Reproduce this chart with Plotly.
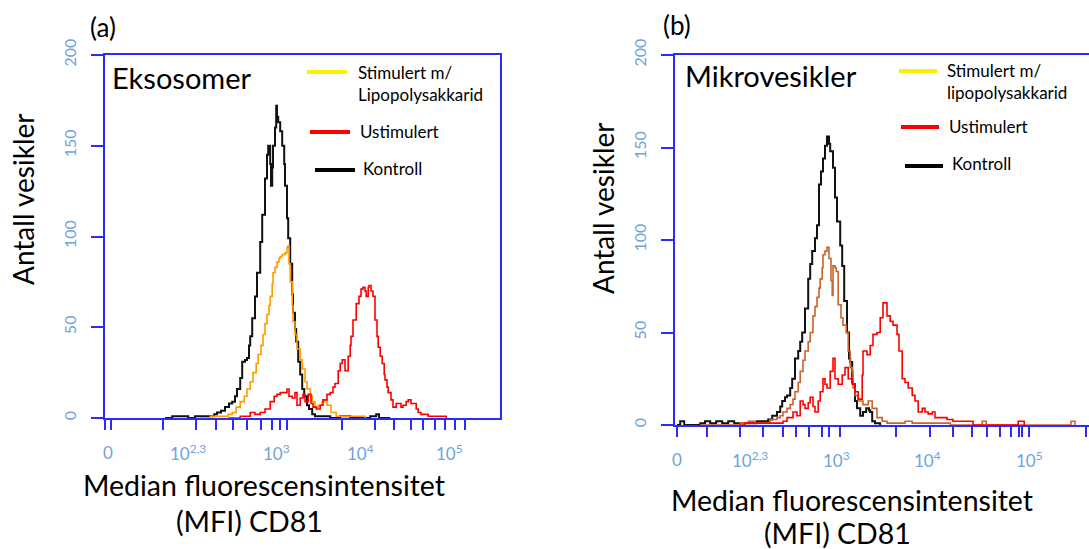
import plotly.graph_objects as go

W, H = 1089, 549
FONT = "Lato"
AXIS_BLUE = "#2B2BFF"
TICK_BLUE = "#6FA3DA"

# ---------------- data (channel units on a biexponential display, counts) ----------------
# Panel (a) Eksosomer
a_ctrl_x = [150, 168, 188, 208, 225, 245, 263, 273, 280, 290, 300, 310, 318, 325, 330, 338, 343, 350, 355, 360,
            363, 368, 375, 380, 388, 393, 400, 405, 408, 413, 415, 418, 420, 425, 428, 430, 433, 438, 443, 448,
            450, 455, 458, 463, 468, 470, 475, 478, 483, 488, 493, 498, 505, 510, 518, 525, 538, 563, 588, 613,
            663, 678, 685, 713]
a_ctrl_y = [0, 1, 1, 0, 1, 1, 1, 2, 3, 4, 6, 8, 9, 12, 16, 22, 31, 32, 33, 40,
            45, 55, 67, 80, 97, 112, 132, 145, 150, 140, 128, 138, 150, 160, 172, 166, 163, 158, 150, 140,
            128, 110, 99, 85, 68, 58, 49, 42, 31, 24, 16, 12, 7, 5, 2, 1, 1, 0, 1, 0,
            1, 2, 0, 0]

a_stim_x = [238, 263, 288, 308, 318, 328, 338, 348, 355, 363, 370, 378, 383, 390, 395, 400, 405, 410, 413, 418,
            420, 425, 430, 435, 438, 443, 450, 455, 458, 460, 463, 468, 470, 475, 480, 488, 493, 500, 505, 513,
            518, 525, 533, 543, 550, 555, 565, 578, 600, 625, 650]
a_stim_y = [0, 1, 1, 2, 3, 6, 9, 12, 16, 20, 25, 30, 35, 40, 46, 52, 57, 62, 67, 74,
            80, 83, 86, 88, 89, 90, 91, 94, 95, 85, 75, 62, 53, 46, 38, 32, 27, 20, 16, 12,
            9, 6, 7, 9, 10, 7, 3, 1, 1, 1, 0]

a_unst_x = [308, 338, 363, 375, 388, 400, 413, 423, 430, 438, 445, 455, 460, 468, 475, 480, 488, 495, 500, 508,
            515, 520, 528, 538, 545, 555, 563, 570, 575, 583, 588, 593, 600, 608, 613, 615, 620, 628, 635, 640,
            645, 650, 653, 658, 660, 665, 670, 675, 680, 683, 688, 693, 698, 700, 705, 708, 715, 720, 728, 733,
            740, 745, 753, 758, 765, 770, 778, 783, 790, 795, 808, 820, 833, 845, 853]
a_unst_y = [0, 1, 3, 2, 3, 5, 9, 12, 13, 14, 14, 16, 12, 11, 14, 7, 11, 13, 9, 13,
            8, 6, 5, 7, 10, 13, 14, 17, 19, 26, 30, 32, 26, 34, 40, 45, 54, 63, 67, 71,
            72, 70, 67, 72, 73, 70, 67, 54, 45, 39, 34, 30, 24, 21, 17, 14, 10, 6, 8, 8,
            6, 7, 9, 10, 8, 8, 5, 3, 2, 2, 1, 1, 1, 1, 0]

# Panel (b) Mikrovesikler
b_ctrl_x = [5, 13, 23, 63, 75, 88, 103, 118, 133, 148, 163, 188, 205, 220, 233, 243, 255, 263, 268, 275,
            280, 288, 293, 300, 308, 313, 318, 325, 333, 338, 343, 350, 355, 360, 365, 370, 375, 380, 385, 388,
            395, 400, 405, 413, 418, 423, 430, 435, 438, 443, 445, 450, 455, 463, 470, 478, 485, 488, 493, 500,
            513]
b_ctrl_y = [0, 2, 0, 1, 2, 1, 2, 1, 2, 1, 1, 1, 2, 2, 3, 5, 7, 10, 13, 15,
            16, 20, 25, 36, 40, 45, 50, 63, 79, 87, 94, 101, 108, 130, 137, 144, 151, 156, 152, 148,
            139, 123, 110, 97, 86, 67, 50, 36, 34, 23, 22, 13, 9, 5, 7, 9, 8, 7, 2, 1,
            0]

b_stim_x = [63, 163, 183, 200, 220, 238, 255, 263, 270, 280, 288, 295, 300, 308, 313, 320, 325, 333, 338, 345,
            350, 355, 360, 363, 368, 370, 375, 380, 385, 390, 393, 395, 400, 403, 408, 415, 420, 428, 433, 438,
            443, 445, 450, 458, 470, 483, 493, 505, 518, 530, 550, 575, 593, 613, 638, 688, 768, 778, 990, 1000]
b_stim_y = [0, 1, 2, 1, 1, 3, 4, 5, 7, 9, 11, 14, 18, 23, 29, 35, 40, 45, 50, 59,
            64, 69, 74, 79, 85, 92, 94, 96, 90, 78, 70, 86, 85, 83, 65, 58, 54, 50, 40, 31,
            29, 20, 16, 13, 11, 13, 9, 4, 2, 1, 1, 2, 1, 1, 1, 0, 2, 0, 2, 0]

b_unst_x = [163, 175, 213, 250, 270, 280, 295, 305, 313, 320, 325, 333, 338, 345, 350, 358, 363, 370, 375, 380,
            388, 395, 400, 408, 418, 425, 433, 443, 450, 458, 468, 470, 480, 488, 495, 505, 513, 520, 530, 538,
            545, 555, 560, 568, 575, 583, 593, 600, 608, 618, 625, 633, 643, 650, 663, 680, 695, 713, 730, 745,
            853, 858, 868, 873]
b_unst_y = [0, 1, 1, 1, 2, 4, 7, 5, 13, 11, 9, 12, 15, 10, 7, 13, 18, 25, 22, 20,
            29, 36, 25, 22, 27, 31, 25, 22, 18, 14, 27, 40, 38, 43, 49, 50, 58, 66, 59, 56,
            54, 49, 40, 25, 23, 20, 16, 13, 7, 9, 7, 6, 7, 4, 4, 3, 2, 2, 2, 0,
            0, 2, 2, 0]

# axis ticks / labels (channel positions)
a_tickvals = [0, 15, 145, 228, 278, 320, 355, 390, 418, 438, 455, 593, 675, 723, 765, 795, 825, 850, 875, 900]
b_tickvals = [5, 80, 163, 220, 270, 303, 335, 368, 385, 413, 553, 638, 695, 743, 780, 813, 840, 860, 868, 885, 1028]
x_label_text = ["0", "10<sup>2,3</sup>", "10<sup>3</sup>", "10<sup>4</sup>", "10<sup>5</sup>"]
a_label_pos = [8, 208, 428, 638, 860]
b_label_pos = [5, 188, 403, 630, 885]
y_tickvals = [0, 50, 100, 150, 200]

legend_labels_a = ["Stimulert m/<br>Lipopolysakkarid", "Ustimulert", "Kontroll"]
legend_labels_b = ["Stimulert m/<br>lipopolysakkarid", "Ustimulert", "Kontroll"]

# ---------------- figure ----------------
def px(x):
    return x / W

def py(y):
    return 1 - y / H

fig = go.Figure()

def add_hist(x, y, color, width, xa, ya):
    fig.add_trace(go.Scatter(x=x, y=y, mode="lines", line=dict(color=color, width=width, shape="hv"),
                             xaxis=xa, yaxis=ya, showlegend=False, hoverinfo="skip"))

add_hist(a_ctrl_x, a_ctrl_y, "#111111", 2, "x", "y")
add_hist(a_stim_x, a_stim_y, "#FF9A00", 1.6, "x", "y")
add_hist(a_unst_x, a_unst_y, "#FF0000", 1.6, "x", "y")
add_hist(b_ctrl_x, b_ctrl_y, "#111111", 2, "x2", "y2")
add_hist(b_stim_x, b_stim_y, "#C8642E", 1.6, "x2", "y2")
add_hist(b_unst_x, b_unst_y, "#FF0000", 1.6, "x2", "y2")

xcommon = dict(showgrid=False, zeroline=False, showline=True, linecolor=AXIS_BLUE, linewidth=2,
               ticks="outside", ticklen=10, tickwidth=2, tickcolor=AXIS_BLUE, showticklabels=False,
               tickmode="array", layer="below traces", fixedrange=True, automargin=False)
ycommon = dict(showgrid=False, zeroline=False, showline=True, linecolor=AXIS_BLUE, linewidth=2,
               ticks="outside", ticklen=12, tickwidth=2, tickcolor=AXIS_BLUE, tickmode="array",
               tickvals=y_tickvals, tickangle=-90, ticklabelstandoff=9,
               tickfont=dict(family=FONT, size=16, color=TICK_BLUE), range=[0, 200],
               layer="below traces", fixedrange=True, automargin=False)

fig.update_layout(
    template="none",
    width=W, height=H, margin=dict(l=0, r=0, t=0, b=0, pad=0),
    paper_bgcolor="white", plot_bgcolor="white", showlegend=False,
    xaxis=dict(xcommon, domain=[px(105), px(500)], range=[0, 987.5], tickvals=a_tickvals, mirror=True, anchor="y"),
    yaxis=dict(ycommon, domain=[py(418), py(55)], mirror=True, anchor="x"),
    xaxis2=dict(xcommon, domain=[px(675), 1.0], range=[0, 1035], tickvals=b_tickvals, mirror=True, anchor="y2"),
    yaxis2=dict(ycommon, domain=[py(425), py(55)], mirror=False, anchor="x2"),
)

ann = []
def text(x, y, s, size, color="black", xanchor="center", angle=0, xref="paper", align="center"):
    ann.append(dict(x=x, y=y, xref=xref, yref="paper", text=s, showarrow=False, xanchor=xanchor,
                    yanchor="middle", textangle=angle, align=align,
                    font=dict(family=FONT, size=size, color=color)))

# x tick labels
for pos, s in zip(a_label_pos, x_label_text):
    text(pos, py(452), s, 17, TICK_BLUE, xref="x")
for pos, s in zip(b_label_pos, x_label_text):
    text(pos, py(459), s, 17, TICK_BLUE, xref="x2")

# panel labels
text(px(103), py(27), "(a)", 26)
text(px(677), py(25), "(b)", 26)
# inner titles
text(px(110), py(78), "Eksosomer", 29, xanchor="left")
text(px(683), py(75), "Mikrovesikler", 29, xanchor="left")
# axis titles
text(px(23), py(199), "Antall vesikler", 28, angle=-90)
text(px(603), py(208), "Antall vesikler", 28, angle=-90)
text(px(264), py(485), "Median fluorescensintensitet", 28.5)
text(px(249), py(521), "(MFI) CD81", 28.5)
text(px(852), py(500), "Median fluorescensintensitet", 28.5)
text(px(837), py(533), "(MFI) CD81", 28.5)

# legends
legend_colors = ["#FFEE00", "#FF0000", "#000000"]
la = [(307, 347, 72, 356, 84), (310, 350, 132, 358, 131), (315, 355, 170, 361, 168)]
lb = [(899, 937, 71, 945, 82), (901, 939, 127, 947, 127), (905, 943, 166, 950, 164)]
shapes = []
for labels, spec in ((legend_labels_a, la), (legend_labels_b, lb)):
    for lab, col, (x0, x1, ys, xt, yt) in zip(labels, legend_colors, spec):
        shapes.append(dict(type="line", xref="paper", yref="paper", x0=px(x0), x1=px(x1), y0=py(ys), y1=py(ys),
                           line=dict(color=col, width=4)))
        text(px(xt), py(yt), lab, 17, xanchor="left", align="left")

fig.update_layout(annotations=ann, shapes=shapes)
fig.write_html("out.html")
